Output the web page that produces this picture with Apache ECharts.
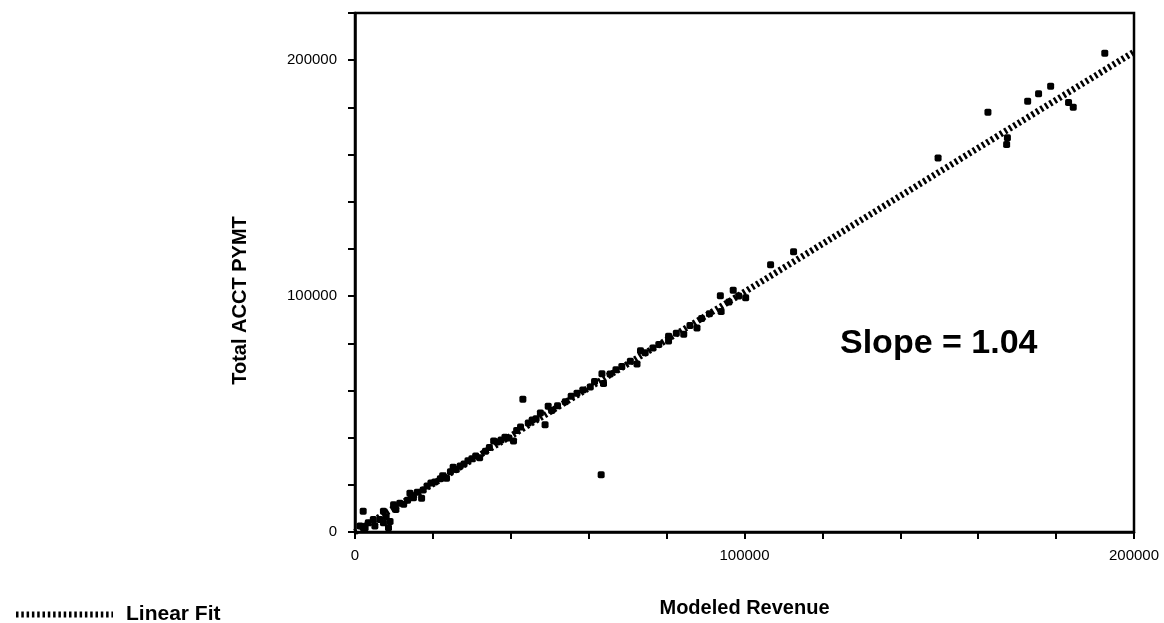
<!DOCTYPE html>
<html>
<head>
<meta charset="utf-8">
<script src="https://cdn.jsdelivr.net/npm/echarts@6/dist/echarts.min.js"></script>
<style>html,body{margin:0;padding:0;background:#fff}#c{width:1164px;height:623px}</style>
</head>
<body>
<div id="c"></div>
<script>
// Modeled Revenue (x) values of the observed accounts
var revenue = [1300,2100,2600,3400,4700,5100,6400,7300,7300,8600,8000,9000,9900,10500,11500,12500,13500,14100,15000,16000,17100,17500,18500,19500,20500,21900,22500,23500,24500,25200,26000,27000,28000,29000,30000,31000,32000,33500,34500,35600,36500,37500,38500,39500,40700,41500,42500,43100,44500,45500,46500,47600,48800,49600,50500,52000,54000,55500,57000,58500,60400,61500,63200,63400,63800,65500,67000,68500,70700,72400,73300,74500,76500,78000,80500,80500,82500,84400,86000,87800,89000,91000,93800,94000,96000,97100,98500,100300,106700,112600,149700,162500,167300,167500,172700,175500,178600,183200,184400,192500];
// Total ACCT PYMT (y) values of the observed accounts
var payment = [2500,8750,1800,3900,5300,2500,5300,3900,8750,1800,6500,4500,11500,9500,12200,11800,13500,16400,14500,16800,14300,17800,19500,20800,21200,22600,23800,22800,25500,27500,26500,28000,28800,30200,31000,32200,31500,34200,35800,38600,38200,39000,40200,39800,38600,43000,44500,56250,46200,47500,48000,50400,45500,53300,51500,53500,55200,57500,58800,60200,61500,63800,24300,67100,62900,67000,68800,70200,72400,71250,76800,76000,78000,79500,81000,83000,84200,83800,87500,86500,90500,92500,100100,93500,97500,102500,100000,99300,113300,118750,158500,177900,164300,167100,182600,185800,188900,182100,180100,202900];
// Linear fit end points
var fitX = [0, 200000];
var fitY = [0, 203500];
// Tick labels shown
var xTickLabels = ['0', '100000', '200000'];
var yTickLabels = ['0', '100000', '200000'];

var points = revenue.map(function (v, i) { return [v, payment[i]]; });
var fitLine = fitX.map(function (v, i) { return [v, fitY[i]]; });

var FONT = '"Liberation Sans", Arial, Helvetica, sans-serif';
var chart = echarts.init(document.getElementById('c'), null, { renderer: 'canvas' });

function labelFmt(list) {
  return function (val) {
    var s = String(Math.round(val));
    return list.indexOf(s) >= 0 ? s : '';
  };
}

chart.setOption({
  animation: false,
  backgroundColor: '#fff',
  grid: {
    left: 355, right: 30, top: 13, bottom: 82,
    show: true, borderColor: '#000', borderWidth: 2.5, backgroundColor: 'transparent'
  },
  xAxis: {
    type: 'value', min: 0, max: 200000, interval: 20000,
    name: 'Modeled Revenue', nameLocation: 'middle', nameGap: 66,
    nameTextStyle: { fontFamily: FONT, fontWeight: 'bold', fontSize: 20, color: '#000' },
    axisLine: { show: true, onZero: false, lineStyle: { color: '#000', width: 2.5 } },
    axisTick: { show: true, inside: false, length: 7, lineStyle: { color: '#000', width: 2 } },
    axisLabel: { formatter: labelFmt(xTickLabels), fontFamily: FONT, fontSize: 15, color: '#000', margin: 16, showMinLabel: true, showMaxLabel: true },
    splitLine: { show: false }
  },
  yAxis: {
    type: 'value', min: 0, max: 220000, interval: 20000,
    name: 'Total ACCT PYMT', nameLocation: 'middle', nameGap: 105, nameRotate: 90,
    nameTextStyle: { fontFamily: FONT, fontWeight: 'bold', fontSize: 20, color: '#000', padding: [0, 56, 0, 0] },
    axisLine: { show: true, onZero: false, lineStyle: { color: '#000', width: 2.5 } },
    axisTick: { show: true, inside: false, length: 7, lineStyle: { color: '#000', width: 2 } },
    axisLabel: { formatter: labelFmt(yTickLabels), fontFamily: FONT, fontSize: 15, color: '#000', margin: 18, showMinLabel: true, showMaxLabel: true },
    splitLine: { show: false }
  },
  legend: {
    left: 13, top: 604, orient: 'horizontal', padding: 0,
    itemWidth: 97, itemHeight: 14,
    data: [{ name: 'Linear Fit' }],
    itemStyle: { color: 'rgba(0,0,0,0)', borderWidth: 0, opacity: 0 },
    lineStyle: { color: '#000', width: 6, type: [2.5, 2.8] },
    textStyle: { fontFamily: FONT, fontWeight: 'bold', fontSize: 21, color: '#000', padding: [0, 0, 0, 8] }
  },
  graphic: [{
    type: 'text', left: 840, top: 327,
    style: { text: 'Slope = 1.04', font: 'bold 34px "Liberation Sans", Arial, sans-serif', fill: '#000' }
  }],
  series: [
    {
      name: 'Linear Fit', type: 'line', data: fitLine, symbol: 'none', z: 2,
      itemStyle: { color: '#000' },
      lineStyle: { color: '#000', width: 6.5, type: [2.5, 2.8] }
    },
    {
      name: 'Observed', type: 'scatter', data: points, symbol: 'roundRect', symbolSize: 7, z: 3,
      itemStyle: { color: '#000', opacity: 1 }
    }
  ]
});
</script>
</body>
</html>
